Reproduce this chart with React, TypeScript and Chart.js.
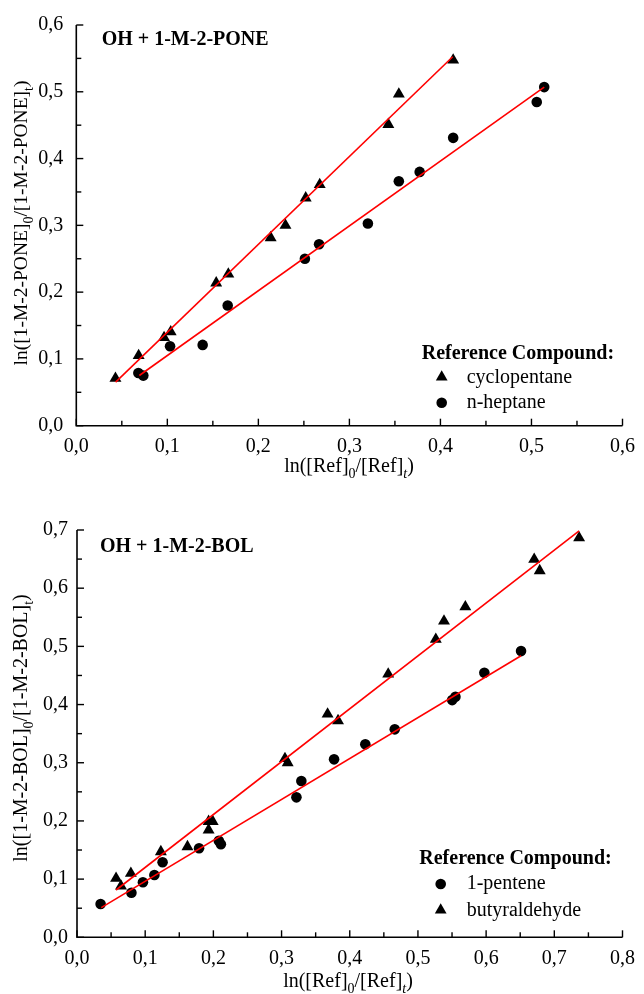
import React, { useEffect, useRef } from "react";
import { Chart, registerables } from "chart.js";
Chart.register(...registerables);

// ---------- Top panel: OH + 1-M-2-PONE ----------
const poneCycloX = [0.043, 0.0685, 0.0964, 0.1037, 0.1537, 0.167, 0.2135, 0.2298, 0.252, 0.2674, 0.3428, 0.3543, 0.414];
const poneCycloY = [0.071, 0.105, 0.132, 0.1405, 0.2137, 0.227, 0.2815, 0.300, 0.341, 0.361, 0.451, 0.4966, 0.5475];
const poneHeptX = [0.0682, 0.0736, 0.103, 0.1388, 0.1663, 0.2511, 0.2667, 0.3203, 0.3543, 0.3772, 0.414, 0.5058, 0.514];
const poneHeptY = [0.079, 0.075, 0.119, 0.121, 0.180, 0.250, 0.2716, 0.3027, 0.366, 0.380, 0.431, 0.4847, 0.507];
const poneCycloFitX = [0.0432, 0.4135];
const poneCycloFitY = [0.0653, 0.5525];
const poneHeptFitX = [0.0692, 0.514];
const poneHeptFitY = [0.0752, 0.507];

// ---------- Bottom panel: OH + 1-M-2-BOL ----------
const bolPenteneX = [0.0346, 0.0798, 0.0967, 0.1135, 0.1255, 0.179, 0.208, 0.211, 0.3218, 0.329, 0.377, 0.4228, 0.466, 0.5502, 0.555, 0.5974, 0.6512];
const bolPenteneY = [0.0572, 0.0766, 0.0945, 0.107, 0.129, 0.153, 0.166, 0.160, 0.2405, 0.2686, 0.3058, 0.3316, 0.3574, 0.4077, 0.4134, 0.4546, 0.4919];
const bolButyrX = [0.0573, 0.0645, 0.079, 0.123, 0.162, 0.193, 0.193, 0.199, 0.305, 0.309, 0.3675, 0.3828, 0.4564, 0.5262, 0.5382, 0.5695, 0.6705, 0.6786, 0.7364];
const bolButyrY = [0.1014, 0.088, 0.110, 0.147, 0.1557, 0.1844, 0.199, 0.199, 0.307, 0.300, 0.3837, 0.3722, 0.4524, 0.512, 0.5435, 0.568, 0.6495, 0.630, 0.6866];
const bolButyrFitX = [0.0573, 0.7364];
const bolButyrFitY = [0.0813, 0.6986];
const bolPenteneFitX = [0.0356, 0.6512];
const bolPenteneFitY = [0.0509, 0.4838];

const FONT = '"Liberation Serif", "Times New Roman", serif';
const RED = "#ff0000";

type Part = { t: string; sub?: boolean; it?: boolean };

const zip = (xs: number[], ys: number[]) => xs.map((x, i) => ({ x, y: ys[i] }));
const fmt = (v: number) => v.toFixed(1).replace(".", ",");

function partFont(p: Part, size: number) {
  const s = p.sub ? Math.round(size * 0.72) : size;
  return `${p.it ? "italic " : ""}${s}px ${FONT}`;
}
function drawRich(ctx: CanvasRenderingContext2D, parts: Part[], cx: number, y: number, size: number) {
  let w = 0;
  for (const p of parts) {
    ctx.font = partFont(p, size);
    w += ctx.measureText(p.t).width;
  }
  let x = cx - w / 2;
  ctx.textAlign = "left";
  ctx.textBaseline = "alphabetic";
  for (const p of parts) {
    ctx.font = partFont(p, size);
    ctx.fillText(p.t, x, y + (p.sub ? size * 0.3 : 0));
    x += ctx.measureText(p.t).width;
  }
}

const xTitle: Part[] = [{ t: "ln([Ref]" }, { t: "0", sub: true }, { t: "/[Ref]" }, { t: "t", sub: true, it: true }, { t: ")" }];

type PanelProps = {
  datasets: any[];
  xMax: number;
  yMax: number;
  yAxisWidth: number;
  xAxisHeight: number;
  padTop: number;
  padRight: number;
  yTickPad: number;
  xTickPad: number;
  title: string;
  titlePos: [number, number];
  yTitle: Part[];
  yTitlePos: [number, number];
  yTitleSize: number;
  xTitlePos: [number, number];
  legend: { head: [number, number]; items: { label: string; style: string; sym: [number, number]; text: [number, number] }[] };
  height: number;
};

function Panel(props: PanelProps) {
  const ref = useRef<HTMLCanvasElement>(null);
  useEffect(() => {
    const p = props;
    const deco = {
      id: "deco",
      afterDraw(chart: any) {
        const ctx: CanvasRenderingContext2D = chart.ctx;
        const a = chart.chartArea;
        const xs = chart.scales.x;
        const ys = chart.scales.y;
        ctx.save();
        ctx.strokeStyle = "#000";
        ctx.fillStyle = "#000";
        ctx.lineWidth = 1.6;
        ctx.beginPath();
        ctx.moveTo(a.left, a.top);
        ctx.lineTo(a.left, a.bottom);
        ctx.lineTo(a.right, a.bottom);
        ctx.stroke();
        ctx.lineWidth = 1.4;
        for (let i = 0; i <= Math.round(p.xMax / 0.05); i++) {
          const v = i * 0.05;
          const px = xs.getPixelForValue(v);
          const len = i % 2 === 0 ? 7 : 5;
          ctx.beginPath();
          ctx.moveTo(px, a.bottom);
          ctx.lineTo(px, a.bottom - len);
          ctx.stroke();
        }
        for (let i = 0; i <= Math.round(p.yMax / 0.05); i++) {
          const v = i * 0.05;
          const py = ys.getPixelForValue(v);
          const len = i % 2 === 0 ? 7 : 5;
          ctx.beginPath();
          ctx.moveTo(a.left, py);
          ctx.lineTo(a.left + len, py);
          ctx.stroke();
        }
        // panel title
        ctx.font = `bold 20px ${FONT}`;
        ctx.textAlign = "left";
        ctx.textBaseline = "alphabetic";
        ctx.fillText(p.title, p.titlePos[0], p.titlePos[1]);
        // legend
        ctx.fillText("Reference Compound:", p.legend.head[0], p.legend.head[1]);
        ctx.font = `20px ${FONT}`;
        for (const it of p.legend.items) {
          const [sx, sy] = it.sym;
          ctx.beginPath();
          if (it.style === "circle") {
            ctx.arc(sx, sy, 5.3, 0, Math.PI * 2);
          } else {
            const r = 6.8;
            ctx.moveTo(sx, sy - r);
            ctx.lineTo(sx + r * 0.866, sy + r * 0.5);
            ctx.lineTo(sx - r * 0.866, sy + r * 0.5);
            ctx.closePath();
          }
          ctx.fill();
          ctx.fillText(it.label, it.text[0], it.text[1]);
        }
        // axis titles
        drawRich(ctx, xTitle, p.xTitlePos[0], p.xTitlePos[1], 20);
        ctx.save();
        ctx.translate(p.yTitlePos[0], p.yTitlePos[1]);
        ctx.rotate(-Math.PI / 2);
        drawRich(ctx, p.yTitle, 0, 0, p.yTitleSize);
        ctx.restore();
        ctx.restore();
      },
    };
    const chart = new Chart(ref.current!, {
      type: "scatter",
      data: { datasets: p.datasets },
      options: {
        animation: false,
        responsive: false,
        devicePixelRatio: 1,
        layout: { padding: { top: p.padTop, right: p.padRight, left: 0, bottom: 0 } },
        plugins: { legend: { display: false }, tooltip: { enabled: false } },
        scales: {
          x: {
            type: "linear",
            min: 0,
            max: p.xMax,
            grid: { display: false, drawTicks: false },
            border: { display: false },
            ticks: { stepSize: 0.1, padding: p.xTickPad, color: "#000", font: { family: FONT, size: 20 }, callback: (v: any) => fmt(Number(v)), maxRotation: 0, autoSkip: false },
            afterFit: (s: any) => { s.height = p.xAxisHeight; },
          },
          y: {
            type: "linear",
            min: 0,
            max: p.yMax,
            grid: { display: false, drawTicks: false },
            border: { display: false },
            ticks: { stepSize: 0.1, padding: p.yTickPad, color: "#000", font: { family: FONT, size: 20 }, callback: (v: any) => fmt(Number(v)) },
            afterFit: (s: any) => { s.width = p.yAxisWidth; },
          },
        },
      } as any,
      plugins: [deco],
    });
    return () => chart.destroy();
  }, []);
  return <canvas ref={ref} width={644} height={props.height} style={{ display: "block", width: 644, height: props.height }} />;
}

const pointDs = (label: string, data: any[], style: string) => ({
  label,
  data,
  pointStyle: style,
  pointRadius: style === "circle" ? 5.3 : 6.9,
  pointBackgroundColor: "#000",
  pointBorderColor: "#000",
  pointBorderWidth: 0,
  showLine: false,
});
const lineDs = (data: any[]) => ({
  data,
  showLine: true,
  borderColor: RED,
  borderWidth: 1.6,
  pointRadius: 0,
  fill: false,
});

export default function App() {
  const topDatasets = [
    lineDs(zip(poneCycloFitX, poneCycloFitY)),
    lineDs(zip(poneHeptFitX, poneHeptFitY)),
    pointDs("cyclopentane", zip(poneCycloX, poneCycloY), "triangle"),
    pointDs("n-heptane", zip(poneHeptX, poneHeptY), "circle"),
  ];
  const botDatasets = [
    lineDs(zip(bolButyrFitX, bolButyrFitY)),
    lineDs(zip(bolPenteneFitX, bolPenteneFitY)),
    pointDs("1-pentene", zip(bolPenteneX, bolPenteneY), "circle"),
    pointDs("butyraldehyde", zip(bolButyrX, bolButyrY), "triangle"),
  ];
  return (
    <div style={{ position: "absolute", left: 0, top: 0, width: 644, height: 994, background: "#fff" }}>
      <Panel
        height={497}
        datasets={topDatasets}
        xMax={0.6}
        yMax={0.6}
        yAxisWidth={76.3}
        xAxisHeight={71.3}
        padTop={21.3}
        padRight={15.7}
        yTickPad={13}
        xTickPad={9}
        title="OH + 1-M-2-PONE"
        titlePos={[101.7, 45]}
        yTitle={[{ t: "ln([1-M-2-PONE]" }, { t: "0", sub: true }, { t: "/[1-M-2-PONE]" }, { t: "t", sub: true }, { t: ")" }]}
        yTitlePos={[27, 223]}
        yTitleSize={19.5}
        xTitlePos={[349, 472]}
        legend={{
          head: [421.7, 359],
          items: [
            { label: "cyclopentane", style: "triangle", sym: [441.7, 377], text: [466.7, 383] },
            { label: "n-heptane", style: "circle", sym: [441.7, 402.7], text: [466.7, 408] },
          ],
        }}
      />
      <Panel
        height={497}
        datasets={botDatasets}
        xMax={0.8}
        yMax={0.7}
        yAxisWidth={77}
        xAxisHeight={56.7}
        padTop={33}
        padRight={12.3}
        yTickPad={9}
        xTickPad={9}
        title="OH + 1-M-2-BOL"
        titlePos={[100, 551.7 - 497]}
        yTitle={[{ t: "ln([1-M-2-BOL]" }, { t: "0", sub: true }, { t: "/[1-M-2-BOL]" }, { t: "t", sub: true }, { t: ")" }]}
        yTitlePos={[27, 728 - 497]}
        yTitleSize={20}
        xTitlePos={[348, 987 - 497]}
        legend={{
          head: [419.3, 864 - 497],
          items: [
            { label: "1-pentene", style: "circle", sym: [440.7, 884 - 497], text: [466.7, 889.3 - 497] },
            { label: "butyraldehyde", style: "triangle", sym: [440.7, 910 - 497], text: [466.7, 916 - 497] },
          ],
        }}
      />
    </div>
  );
}
